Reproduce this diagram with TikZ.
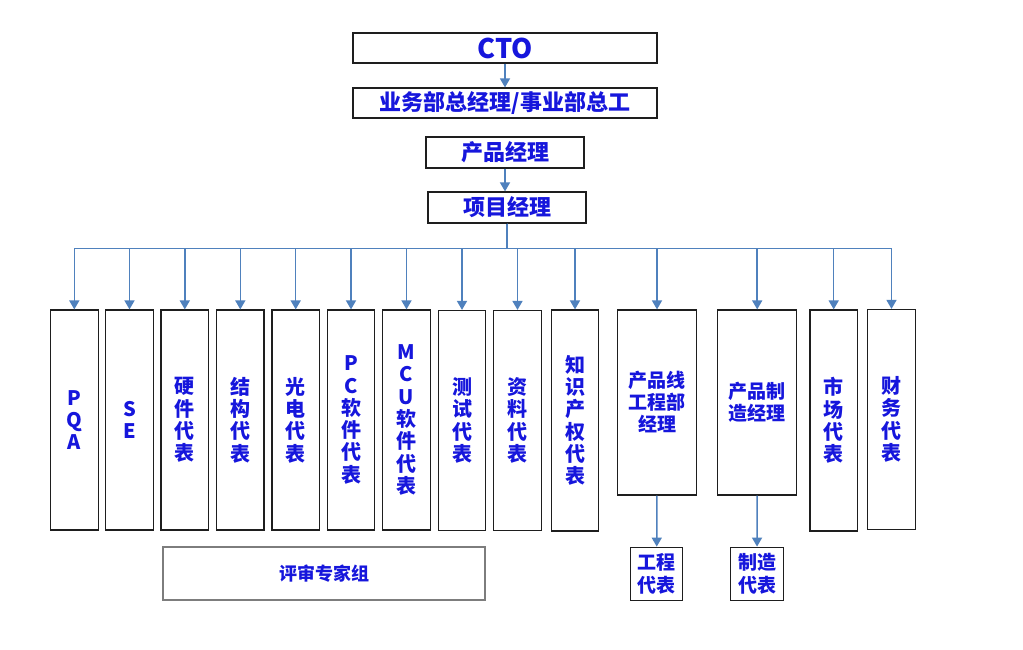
\documentclass[tikz,border=0pt]{standalone}
\usepackage{fontspec}
\setmainfont{Noto Sans CJK SC}
\usetikzlibrary{arrows.meta}
\definecolor{txtblue}{RGB}{22,22,220}
\definecolor{lineblue}{RGB}{79,129,189}
\definecolor{boxline}{RGB}{30,30,30}
\definecolor{revline}{RGB}{125,125,125}
\tikzset{
  box/.style={draw=boxline, line width=1.2pt, fill=white, rectangle, inner sep=0pt,
    text=txtblue, align=center, font=\bfseries\fontsize{20}{22.3}\selectfont},
  topbox/.style={box, font=\bfseries\fontsize{22}{24}\selectfont},
  colbox/.style={box, minimum height=220pt},
  widebox/.style={box, font=\bfseries\fontsize{19}{22}\selectfont, minimum width=79pt, minimum height=185pt},
  smallbox/.style={box, font=\bfseries\fontsize{19}{23}\selectfont, minimum height=53pt},
  conn/.style={draw=lineblue, line width=1.5pt},
  arr/.style={conn, -{Triangle[width=10pt,length=9pt]}},
}
\begin{document}
\begin{tikzpicture}[x=1pt,y=-1pt]
\useasboundingbox (0,0) rectangle (1023,649);
\fill[white] (0,0) rectangle (1023,649);
% top chain
\node[topbox, minimum width=304pt, minimum height=30pt, font=\bfseries\fontsize{27}{29}\selectfont] (cto) at (505,48) {CTO};
\node[topbox, minimum width=304pt, minimum height=30pt] (gm) at (505,103) {业务部总经理/事业部总工};
\node[topbox, minimum width=158pt, minimum height=31pt] (pm) at (505,152.5) {产品经理};
\node[topbox, minimum width=158pt, minimum height=31pt] (xm) at (507,207.5) {项目经理};
\draw[arr] (cto) -- (gm);
\draw[arr] (pm.south) -- (pm.south |- xm.north);
% columns
\node[colbox, minimum width=48pt] (pqa) at (74.3,420) {P\\Q\\A};
\node[colbox, minimum width=47.6pt] (se) at (129.5,420) {S\\E};
\node[colbox, minimum width=47.6pt] (hw) at (184.8,420) {硬\\件\\代\\表};
\node[colbox, minimum width=47.4pt] (st) at (240.3,420) {结\\构\\代\\表};
\node[colbox, minimum width=47.4pt] (oe) at (295.7,420) {光\\电\\代\\表};
\node[colbox, minimum width=47.6pt] (pc) at (351,420) {P\\C\\软\\件\\代\\表};
\node[colbox, minimum width=47.6pt] (mcu) at (406.5,420) {M\\C\\U\\软\\件\\代\\表};
\node[colbox, minimum width=47.4pt] (test) at (462,420.5) {测\\试\\代\\表};
\node[colbox, minimum width=47.6pt] (doc) at (517.5,420.5) {资\\料\\代\\表};
\node[colbox, minimum width=47.4pt, minimum height=221pt] (ip) at (575,420.5) {知\\识\\产\\权\\代\\表};
\node[widebox] (pl) at (657,402.5) {产品线\\工程部\\经理};
\node[widebox] (mf) at (757.2,402.5) {产品制\\造经理};
\node[colbox, minimum width=47.3pt, minimum height=221pt] (mk) at (833.7,420.5) {市\\场\\代\\表};
\node[colbox, minimum width=47.6pt] (fin) at (891.5,419.5) {财\\务\\代\\表};
\node[smallbox, minimum width=52pt] (eng) at (656.7,573.7) {工程\\代表};
\node[smallbox, minimum width=52.6pt] (mfr) at (757,573.7) {制造\\代表};
\node[box, draw=revline, line width=1.8pt, minimum width=321.7pt, minimum height=53.3pt,
  font=\bfseries\fontsize{18}{20}\selectfont] (rev) at (324.2,573.3) {评审专家组};
% bus connectors
\foreach \c in {pqa,se,hw,st,oe,pc,mcu,test,doc,ip,pl,mf,mk,fin}{
  \draw[arr] (xm.south) -- ++(0,24.8) -| (\c.north);
}
\draw[arr] (pl) -- (eng);
\draw[arr] (mf) -- (mfr);
\end{tikzpicture}
\end{document}
